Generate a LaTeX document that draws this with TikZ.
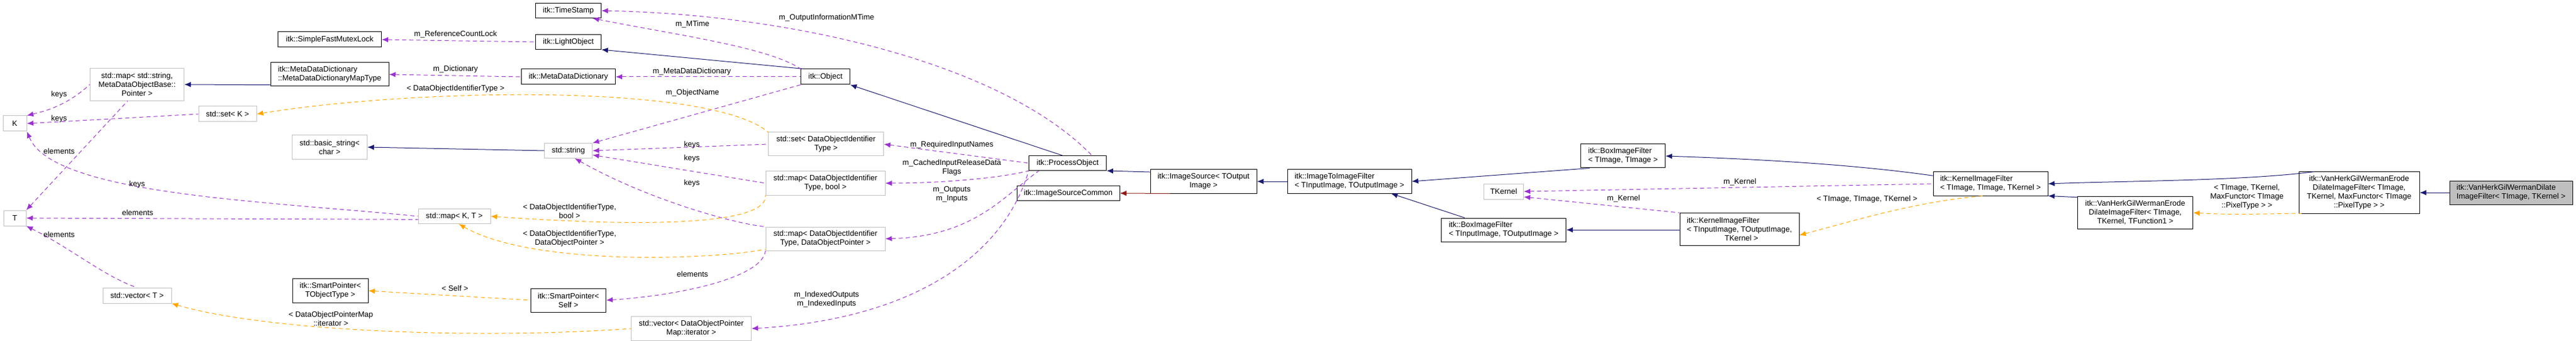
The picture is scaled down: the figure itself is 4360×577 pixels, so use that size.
\documentclass[tikz,border=0pt]{standalone}
\usepackage{fontspec}
\setmainfont{Liberation Sans}
\usetikzlibrary{arrows.meta}
\definecolor{navy}{HTML}{191970}
\definecolor{purp}{HTML}{9A32CD}
\definecolor{orng}{HTML}{FFA500}
\definecolor{dred}{HTML}{8B1A1A}
\definecolor{lgray}{HTML}{BFBFBF}
\begin{document}
\begin{tikzpicture}[x=1pt,y=-1pt,
  every node/.style={font=\fontsize{13}{15}\selectfont, inner sep=0pt},
  cls/.style={draw=black, line width=1pt, fill=white},
  ext/.style={draw=lgray, line width=1pt, fill=white},
  lbl/.style={align=center},
  inh/.style={draw=navy, line width=1pt, {Latex[length=11pt,width=9pt]}-},
  inhr/.style={draw=dred, line width=1pt, {Latex[length=11pt,width=9pt]}-},
  use/.style={draw=purp, line width=1pt, dash pattern=on 7pt off 5pt, {Latex[length=11pt,width=9pt]}-},
  tpl/.style={draw=orng, line width=1pt, dash pattern=on 7pt off 5pt, {Latex[length=11pt,width=9pt]}-}]
\useasboundingbox (0,0) rectangle (4360,577);
\fill[white] (0,0) rectangle (4360,577);
% nodes
\node[cls, minimum width=175, minimum height=26] (sfml) at (558,67) {itk::SimpleFastMutexLock};
\node[cls, minimum width=200, minimum height=40, align=left] (maptype) at (558,126) {itk::MetaDataDictionary\\::MetaDataDictionaryMapType};
\node[ext, minimum width=159, minimum height=55, align=center] (mapstr) at (232,143) {std::map< std::string,\\ MetaDataObjectBase::\\Pointer >};
\node[ext, minimum width=98, minimum height=26] (setK) at (385,193) {std::set< K >};
\node[ext, minimum width=40, minimum height=26] (K) at (25,209) {K};
\node[ext, minimum width=127, minimum height=41, align=center] (bstr) at (558,249) {std::basic\_string<\\char >};
\node[ext, minimum width=38, minimum height=26] (T) at (25,369) {T};
\node[ext, minimum width=116, minimum height=26] (vecT) at (232,500) {std::vector< T >};
\node[cls, minimum width=128, minimum height=41, align=center] (spT) at (559,492) {itk::SmartPointer<\\TObjectType >};
\node[cls, minimum width=111, minimum height=25] (ts) at (962,18) {itk::TimeStamp};
\node[cls, minimum width=111, minimum height=25] (lo) at (962,71) {itk::LightObject};
\node[cls, minimum width=159, minimum height=26] (mdd) at (962,130) {itk::MetaDataDictionary};
\node[ext, minimum width=81, minimum height=25] (str) at (962,255) {std::string};
\node[ext, minimum width=122, minimum height=25] (mapKT) at (769,366) {std::map< K, T >};
\node[cls, minimum width=127, minimum height=40, align=center] (spS) at (962,508) {itk::SmartPointer<\\Self >};
\node[ext, minimum width=203, minimum height=41, align=center] (veci) at (1170,556) {std::vector< DataObjectPointer\\Map::iterator >};
\node[ext, minimum width=195, minimum height=40, align=center] (setD) at (1398,244) {std::set< DataObjectIdentifier\\Type >};
\node[ext, minimum width=202, minimum height=40, align=center] (mapB) at (1397,310) {std::map< DataObjectIdentifier\\Type, bool >};
\node[ext, minimum width=202, minimum height=40, align=center] (mapP) at (1397,404) {std::map< DataObjectIdentifier\\Type, DataObjectPointer >};
\node[cls, minimum width=83, minimum height=26] (obj) at (1397,130) {itk::Object};
\node[cls, minimum width=131, minimum height=25] (po) at (1807,276) {itk::ProcessObject};
\node[cls, minimum width=174, minimum height=25] (isc) at (1808,327) {itk::ImageSourceCommon};
\node[cls, minimum width=180, minimum height=40, align=center] (is) at (2037,307) {itk::ImageSource< TOutput\\Image >};
\node[cls, minimum width=210, minimum height=40, align=left] (i2i) at (2284,307) {itk::ImageToImageFilter\\< TInputImage, TOutputImage >};
\node[ext, minimum width=67, minimum height=26] (tk) at (2545,324) {TKernel};
\node[cls, minimum width=211, minimum height=40, align=left] (boxI) at (2545,389) {itk::BoxImageFilter\\< TInputImage, TOutputImage >};
\node[cls, minimum width=143, minimum height=40, align=left] (boxT) at (2747,264) {itk::BoxImageFilter\\< TImage, TImage >};
\node[cls, minimum width=194, minimum height=40, align=left] (kT) at (3369,311) {itk::KernelImageFilter\\< TImage, TImage, TKernel >};
\node[cls, minimum width=202, minimum height=55, align=left] (kI) at (2944,388) {itk::KernelImageFilter\\< TInputImage, TOutputImage,\\\hspace*{64pt}TKernel >};
\node[cls, minimum width=204, minimum height=70, align=center] (edm) at (3993,326) {itk::VanHerkGilWermanErode\\DilateImageFilter< TImage,\\ TKernel, MaxFunctor< TImage\\::PixelType > >};
\node[cls, minimum width=195, minimum height=55, align=center] (ed1) at (3614,360) {itk::VanHerkGilWermanErode\\DilateImageFilter< TImage,\\ TKernel, TFunction1 >};
\node[draw=black, line width=1pt, fill=lgray, minimum width=208, minimum height=40, align=left] (dil) at (4250,326) {itk::VanHerkGilWermanDilate\\ImageFilter< TImage, TKernel >};
% inheritance
\draw[inh] (edm.east |- dil.west) -- (dil.west);
\draw[inh] (kT.east) .. controls (3600,306) and (3800,306) .. (edm.155);
\draw[inh] (kT.south east) -- (ed1.165);
\draw[inh] (boxT.east) .. controls (3000,270) and (3150,280) .. (kT.172);
\draw[inh] (i2i.east) -- (boxT.200);
\draw[inh] ([xshift=-35pt]i2i.south east) -- ([xshift=40pt]boxI.north west);
\draw[inh] (boxI.east) -- (kI.west |- boxI.east);
\draw[inh] (is.east) -- (i2i.west);
\draw[inh] (po.south east) -- (is.170);
\draw[inhr] (isc.east) -- (is.200);
\draw[inh] (obj.south east) -- (po.125);
\draw[inh] (lo.south east) -- (obj.160);
\draw[inh] (mapstr.east) -- (maptype.190);
\draw[inh] (bstr.east) -- (str.west);
% usage
\draw[use] (ts.east) .. controls (1350,25) and (1700,110) .. ([xshift=-25pt]po.north east);
\draw[use] ([xshift=-15pt]ts.south east) .. controls (1150,60) and (1300,80) .. (obj.north west);
\draw[use] (sfml.east) -- (lo.west);
\draw[use] (mdd.east) -- (obj.west);
\draw[use] (maptype.east) -- (mdd.west);
\draw[use] (str.north east) -- (obj.south west);
\draw[use] (str.east) -- (setD.west);
\draw[use] (str.-10) -- (mapB.west);
\draw[use] ([xshift=-30pt]str.south east) .. controls (1100,340) and (1250,380) .. (mapP.north west);
\draw[use] (setD.east) -- (po.west);
\draw[use] (mapB.east) .. controls (1600,310) and (1700,300) .. (po.south west);
\draw[use] (mapP.east) .. controls (1650,400) and (1700,330) .. (po.-165);
\draw[use] (veci.east) .. controls (1550,540) and (1700,430) .. (po.south west);
\draw[use] (spS.east) .. controls (1150,500) and (1290,470) .. (mapP.south west);
\draw[use] (K.north east) .. controls (90,185) and (120,172) .. (mapstr.west);
\draw[use] (T.north east) -- (mapstr.-120);
\draw[use] (K.east) -- (setK.west);
\draw[use] (K.south east) .. controls (90,330) and (450,340) .. (mapKT.west);
\draw[use] (T.east) -- (mapKT.-175);
\draw[use] (T.south east) .. controls (120,420) and (180,470) .. (vecT.north);
\draw[use] (tk.east) -- (kT.west);
\draw[use] (tk.-15) -- (kI.north west);
% templates
\draw[tpl] (setK.east) .. controls (700,150) and (1200,140) .. (setD.north west);
\draw[tpl] (mapKT.east) .. controls (1100,385) and (1300,380) .. (mapB.south west);
\draw[tpl] (mapKT.-60) .. controls (900,450) and (1200,440) .. (mapP.-170);
\draw[tpl] (spT.east) -- (spS.west);
\draw[tpl] (vecT.south east) .. controls (450,560) and (800,575) .. (veci.west);
\draw[tpl] ([yshift=-10pt]kI.east) .. controls (3150,370) and (3250,340) .. (kT.-120);
\draw[tpl] (ed1.east) .. controls (3800,365) and (3870,360) .. (edm.-160);
% labels
\node[lbl] at (100,160) {keys};
\node[lbl] at (100,201) {keys};
\node[lbl] at (100,256) {elements};
\node[lbl] at (232,312) {keys};
\node[lbl] at (233,360) {elements};
\node[lbl] at (100,397) {elements};
\node[lbl] at (560,539) {< DataObjectPointerMap\\::iterator >};
\node[lbl] at (771,58) {m\_ReferenceCountLock};
\node[lbl] at (1172,41) {m\_MTime};
\node[lbl] at (1399,30) {m\_OutputInformationMTime};
\node[lbl] at (771,117) {m\_Dictionary};
\node[lbl] at (1171,121) {m\_MetaDataDictionary};
\node[lbl] at (771,150) {< DataObjectIdentifierType >};
\node[lbl] at (1172,157) {m\_ObjectName};
\node[lbl] at (1171,245) {keys};
\node[lbl] at (1171,268) {keys};
\node[lbl] at (1171,310) {keys};
\node[lbl] at (964,357) {< DataObjectIdentifierType,\\bool >};
\node[lbl] at (964,404) {< DataObjectIdentifierType,\\DataObjectPointer >};
\node[lbl] at (1172,464) {elements};
\node[lbl] at (770,488) {< Self >};
\node[lbl] at (1611,245) {m\_RequiredInputNames};
\node[lbl] at (1611,284) {m\_CachedInputReleaseData\\Flags};
\node[lbl] at (1611,329) {m\_Outputs\\m\_Inputs};
\node[lbl] at (1399,507) {m\_IndexedOutputs\\m\_IndexedInputs};
\node[lbl] at (2945,308) {m\_Kernel};
\node[lbl] at (2748,336) {m\_Kernel};
\node[lbl] at (3160,337) {< TImage, TImage, TKernel >};
\node[lbl] at (3803,333) {< TImage, TKernel,\\MaxFunctor< TImage\\::PixelType > >};
\end{tikzpicture}
\end{document}
